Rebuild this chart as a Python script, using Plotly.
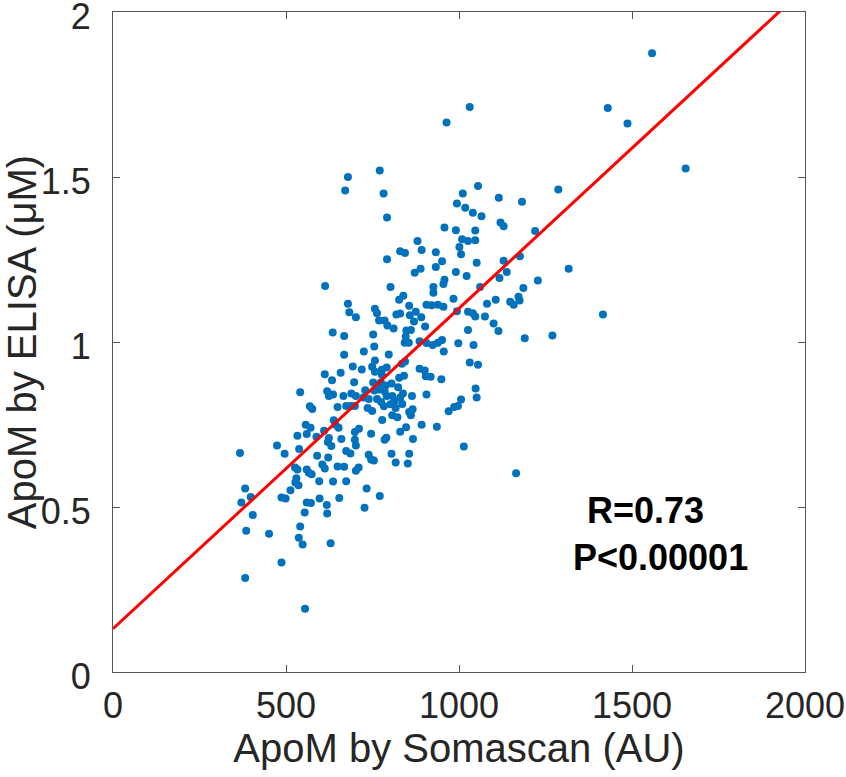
import plotly.graph_objects as go

# ApoM by Somascan (AU)
somascan = [
    1558, 1031, 1430, 964, 1487, 1655, 679, 771, 671, 782, 792, 1287, 1055, 1011, 1115, 1182,
    994, 1018, 1040, 1065, 1120, 1129, 958, 991, 1047, 1220, 1047, 1026, 1009, 880, 1001, 830,
    844, 892, 933, 1006, 1176, 792, 951, 1129, 1051, 933, 889, 1317, 872, 991, 1138, 1022,
    1117, 958, 613, 802, 926, 1061, 1186, 1228, 955, 926, 839, 827, 984, 1172, 1175, 1148,
    1158, 1081, 1106, 906, 921, 939, 955, 856, 679, 683, 702, 757, 763, 769, 819, 830,
    785, 793, 811, 875, 891, 858, 870, 902, 861, 848, 994, 1026, 1040, 1047, 1075, 1100,
    1114, 1026, 1416, 1270, 1190, 635, 668, 752, 755, 846, 843, 855, 886, 906, 924, 939,
    951, 998, 1042, 956, 668, 725, 797, 844, 835, 1031, 1055, 693, 757, 749, 719, 757,
    777, 791, 886, 901, 658, 612, 904, 918, 949, 841, 827, 805, 777, 633, 697, 752,
    774, 788, 729, 755, 769, 785, 824, 807, 838, 906, 1048, 1051, 1006, 997, 986, 970,
    541, 619, 624, 636, 666, 689, 702, 724, 739, 763, 775, 791, 814, 830, 864, 687,
    699, 674, 649, 569, 576, 736, 749, 783, 802, 817, 836, 856, 866, 778, 807, 822,
    861, 892, 936, 847, 830, 867, 638, 643, 652, 557, 571, 610, 588, 533, 560, 624,
    660, 699, 711, 699, 746, 785, 790, 474, 538, 496, 367, 621, 631, 674, 686, 702,
    739, 746, 754, 805, 817, 856, 852, 1014, 1165, 590, 605, 612, 649, 622, 668, 702,
    710, 526, 533, 560, 566, 574, 530, 527, 536, 596, 636, 674, 733, 513, 487, 499,
    597, 560, 572, 618, 654, 771, 727, 554, 619, 541, 537, 548, 629, 382, 398, 371,
    404, 385, 451, 487, 382, 555,
]

# ApoM by ELISA (uM)
elisa = [
    1.875, 1.712, 1.709, 1.665, 1.662, 1.526, 1.500, 1.520, 1.459, 1.450, 1.377, 1.462, 1.473, 1.450, 1.437, 1.425,
    1.420, 1.407, 1.392, 1.381, 1.362, 1.351, 1.347, 1.339, 1.338, 1.336, 1.308, 1.306, 1.311, 1.306, 1.288, 1.275,
    1.270, 1.279, 1.272, 1.266, 1.260, 1.251, 1.245, 1.246, 1.240, 1.227, 1.222, 1.222, 1.210, 1.212, 1.212, 1.200,
    1.194, 1.189, 1.170, 1.167, 1.167, 1.167, 1.164, 1.186, 1.176, 1.149, 1.140, 1.128, 1.131, 1.137, 1.126, 1.122,
    1.113, 1.116, 1.128, 1.113, 1.111, 1.113, 1.107, 1.110, 1.116, 1.090, 1.075, 1.101, 1.087, 1.065, 1.083, 1.086,
    1.065, 1.050, 1.041, 1.092, 1.075, 1.081, 1.062, 1.047, 1.036, 1.035, 1.093, 1.092, 1.087, 1.077, 1.077, 1.056,
    1.033, 1.036, 1.083, 1.020, 1.011, 1.029, 1.018, 1.023, 0.986, 1.017, 0.998, 0.998, 1.002, 0.997, 0.991, 0.998,
    1.006, 0.996, 0.991, 0.971, 0.961, 0.971, 0.962, 0.941, 0.934, 0.938, 0.931, 0.926, 0.944, 0.925, 0.917, 0.910,
    0.916, 0.923, 0.919, 0.914, 0.907, 0.902, 0.896, 0.895, 0.887, 0.898, 0.892, 0.874, 0.901, 0.884, 0.878, 0.877,
    0.877, 0.868, 0.854, 0.853, 0.856, 0.851, 0.863, 0.836, 0.844, 0.841, 0.859, 0.832, 0.826, 0.806, 0.803, 0.790,
    0.848, 0.851, 0.836, 0.841, 0.836, 0.844, 0.836, 0.832, 0.827, 0.827, 0.818, 0.836, 0.821, 0.832, 0.836, 0.806,
    0.806, 0.806, 0.803, 0.805, 0.797, 0.800, 0.791, 0.805, 0.811, 0.800, 0.812, 0.788, 0.796, 0.764, 0.778, 0.772,
    0.778, 0.749, 0.743, 0.742, 0.728, 0.706, 0.763, 0.749, 0.740, 0.749, 0.740, 0.731, 0.713, 0.716, 0.721, 0.709,
    0.706, 0.727, 0.737, 0.704, 0.722, 0.704, 0.710, 0.686, 0.676, 0.661, 0.664, 0.697, 0.685, 0.670, 0.662, 0.686,
    0.658, 0.644, 0.641, 0.661, 0.635, 0.661, 0.632, 0.683, 0.602, 0.655, 0.629, 0.617, 0.623, 0.650, 0.622, 0.610,
    0.620, 0.620, 0.614, 0.614, 0.604, 0.599, 0.587, 0.574, 0.566, 0.578, 0.577, 0.578, 0.556, 0.551, 0.529, 0.526,
    0.526, 0.514, 0.512, 0.506, 0.527, 0.533, 0.498, 0.483, 0.480, 0.441, 0.407, 0.386, 0.390, 0.556, 0.530, 0.514,
    0.476, 0.428, 0.419, 0.332, 0.285, 0.192,
]

# Regression line parameters
fit_intercept = 0.131
fit_slope = 0.000971
fit_x = [0, 2000]
fit_y = [fit_intercept + fit_slope * v for v in fit_x]

x_ticks = [0, 500, 1000, 1500, 2000]
x_tick_labels = ["0", "500", "1000", "1500", "2000"]
y_ticks = [0, 0.5, 1, 1.5, 2]
y_tick_labels = ["0", "0.5", "1", "1.5", "2"]

stats_text = ["R=0.73", "P<0.00001"]

FONT = "Liberation Sans, Arial, Helvetica, sans-serif"

fig = go.Figure()
fig.add_trace(go.Scatter(
    x=somascan, y=elisa, mode="markers",
    marker=dict(color="#0072BD", size=8, line=dict(width=0)),
    showlegend=False, hoverinfo="x+y",
))
fig.add_trace(go.Scatter(
    x=fit_x, y=fit_y, mode="lines",
    line=dict(color="#FF0000", width=3),
    showlegend=False,
))

axis_common = dict(
    showgrid=False, zeroline=False, showline=True, linecolor="#555555", linewidth=1,
    mirror="allticks", ticks="inside", ticklen=7, tickcolor="#555555", tickwidth=1,
    tickfont=dict(family=FONT, size=36, color="#262626"),
    ticklabeloverflow="allow", automargin=False,
)

fig.update_layout(
    width=846, height=777,
    margin=dict(l=113, r=41, t=12, b=105),
    plot_bgcolor="white", paper_bgcolor="white",
    xaxis=dict(range=[0, 2000], tickvals=x_ticks, ticktext=x_tick_labels,
               ticklabelstandoff=2,
               title=dict(text="ApoM by Somascan (AU)", standoff=8,
                          font=dict(family=FONT, size=40, color="#262626")),
               **axis_common),
    yaxis=dict(range=[0, 2], tickvals=y_ticks, ticktext=y_tick_labels,
               ticklabelstandoff=14, ticklabelshift=4,
               title=dict(text="ApoM by ELISA (μM)", standoff=4,
                          font=dict(family=FONT, size=40, color="#262626")),
               **axis_common),
    annotations=[
        dict(x=1540, y=0.488, xref="x", yref="y", text=f"<b>{stats_text[0]}</b>", showarrow=False,
             font=dict(family=FONT, size=36, color="black")),
        dict(x=1581, y=0.348, xref="x", yref="y", text=f"<b>{stats_text[1]}</b>", showarrow=False,
             font=dict(family=FONT, size=36, color="black")),
    ],
)

fig.write_html("out.html", config={"displayModeBar": False},
               post_script="document.body.style.margin='0';")
